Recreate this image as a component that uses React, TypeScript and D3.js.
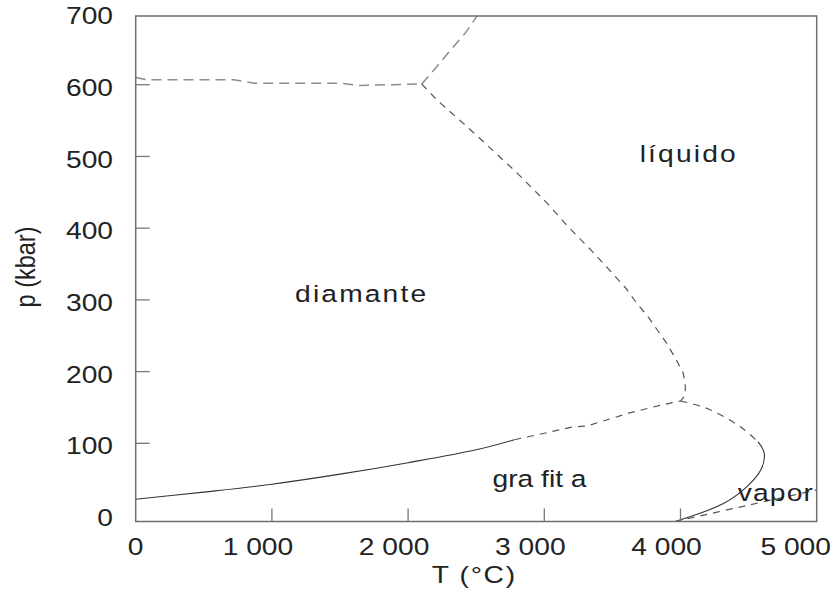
import * as d3 from 'd3'

// axis ticks
const P_TICKS = [0, 100, 200, 300, 400, 500, 600, 700]
const T_TICKS = [0, 1000, 2000, 3000, 4000, 5000]
const T_TICK_LABELS = ['0', '1 000', '2 000', '3 000', '4 000', '5 000']

// phase boundaries (T in °C, p in kbar)
const DG_SOLID_T = [0, 500, 1000, 1500, 2000, 2500, 2780]
const DG_SOLID_P = [22, 32, 43, 57, 73, 91, 105]
const DG_DASH_T = [2780, 3000, 3210, 3310, 3430, 3620, 3850, 4000]
const DG_DASH_P = [105, 114, 123, 124, 131, 142, 153, 159]

const GL_DASH_T = [4000, 4190, 4440, 4570]
const GL_DASH_P = [159, 149, 123, 102]
const GL_SOLID_T = [4570, 4615, 4590, 4490, 4315, 3960]
const GL_SOLID_P = [102, 86, 63, 40, 16, -9]

const GV_T = [3960, 4480, 5000]
const GV_P = [-9, 13, 35]

const DL_T = [2100, 2210, 2430, 2630, 2800, 3020, 3170, 3350, 3510, 3600, 3680, 3760, 3830, 3900, 3970, 4020, 4035, 4035, 4000]
const DL_P = [601, 579, 542, 507, 477, 435, 403, 368, 335, 316, 295, 277, 258, 239, 216, 198, 180, 167, 159]

const LIII_T = [2100, 2210, 2310, 2420, 2510]
const LIII_P = [601, 625, 648, 672, 697]

const DIII_T = [0, 80, 720, 870, 1510, 1630, 2100]
const DIII_P = [610, 607, 607, 602, 602, 599, 601]

// region names and where they sit (T, p of text start / baseline)
const REGION_NAMES = ['líquido', 'diamante', 'gra fit a', 'vapor']
const REGION_T = [3700, 1170, 2620, 4420]
const REGION_P = [492, 297, 39, 20]

const zip = (ts: number[], ps: number[]) => ts.map((t, i) => [t, ps[i]] as [number, number])

export default function App() {
  const width = 839
  const height = 601
  const frameTop = 16
  const sx = 1.2 // source figure is stretched horizontally
  const font = '"Liberation Sans", Arial, sans-serif'

  const x = d3.scaleLinear().domain([0, 5000]).range([135.7, 816.7])
  const y = d3.scaleLinear().domain([-9, 700]).range([521.5, 13])

  const smooth = d3
    .line<[number, number]>()
    .x((d) => x(d[0]))
    .y((d) => y(d[1]))
    .curve(d3.curveCatmullRom.alpha(0.5))
  const straight = d3
    .line<[number, number]>()
    .x((d) => x(d[0]))
    .y((d) => y(d[1]))

  const x0 = x(0)
  const x1 = x(5000)
  const yb = y(-9)

  const upperDash = { stroke: '#8c8c8c', strokeWidth: 1.5, strokeDasharray: '10 6', fill: 'none' }
  const lowerDash = { stroke: '#555', strokeWidth: 1.2, strokeDasharray: '7 6', fill: 'none' }
  const solid = { stroke: '#333', strokeWidth: 1.1, fill: 'none' }

  // thousand labels sit a bit left of their tick in the source figure
  const tLabelShift = (t: number) => (t === 0 ? 0 : t === 5000 ? -21 : -14)

  return (
    <svg
      width={width}
      height={height}
      style={{ position: 'absolute', left: 0, top: 0, background: '#fff' }}
      fontFamily={font}
    >
      {/* phase boundaries */}
      <path d={straight(zip(DIII_T, DIII_P)) ?? ''} {...upperDash} />
      <path d={straight(zip(LIII_T, LIII_P)) ?? ''} {...upperDash} />
      <path d={straight(zip(DL_T, DL_P)) ?? ''} {...lowerDash} />
      <path d={smooth(zip(DG_SOLID_T, DG_SOLID_P)) ?? ''} {...solid} />
      <path d={straight(zip(DG_DASH_T, DG_DASH_P)) ?? ''} {...lowerDash} />
      <path d={smooth(zip(GL_DASH_T, GL_DASH_P)) ?? ''} {...lowerDash} />
      <path d={smooth(zip(GL_SOLID_T, GL_SOLID_P)) ?? ''} {...solid} />
      <path d={smooth(zip(GV_T, GV_P)) ?? ''} {...lowerDash} />

      {/* frame */}
      <rect x={x0} y={frameTop} width={x1 - x0} height={yb - frameTop} fill="none" stroke="#6e6e6e" strokeWidth={1.5} />

      {/* inward ticks */}
      {P_TICKS.filter((p) => p > 0 && p < 700).map((p) => (
        <line key={'py' + p} x1={x0} x2={x0 + 14} y1={y(p)} y2={y(p)} stroke="#777" strokeWidth={1.3} />
      ))}
      {T_TICKS.filter((t) => t > 0 && t < 5000).map((t) => (
        <line key={'tx' + t} x1={x(t)} x2={x(t)} y1={yb} y2={yb - 13} stroke="#777" strokeWidth={1.3} />
      ))}

      {/* tick labels */}
      {P_TICKS.map((p) => (
        <text
          key={'pl' + p}
          transform={`translate(113, ${y(p) + 3}) scale(${sx}, 1)`}
          textAnchor="end"
          dominantBaseline="central"
          fontSize={23.5}
          fill="#222"
        >
          {p}
        </text>
      ))}
      {T_TICKS.map((t, i) => (
        <text
          key={'tl' + t}
          transform={`translate(${x(t) + tLabelShift(t)}, 555) scale(${sx}, 1)`}
          textAnchor="middle"
          fontSize={23.5}
          fill="#222"
        >
          {T_TICK_LABELS[i]}
        </text>
      ))}

      {/* axis titles */}
      <text
        transform={`translate(${(x0 + x1) / 2 - 2}, 583) scale(${sx}, 1)`}
        textAnchor="middle"
        fontSize={23.5}
        letterSpacing={1.4}
        fill="#222"
      >
        T (°C)
      </text>
      <text
        transform={`translate(35, 267) scale(${sx}, 1) rotate(-90)`}
        textAnchor="middle"
        fontSize={23.5}
        fill="#222"
      >
        p (kbar)
      </text>

      {/* region labels */}
      {REGION_NAMES.map((name, i) => (
        <text
          key={name}
          transform={`translate(${x(REGION_T[i])}, ${y(REGION_P[i])}) scale(${sx}, 1)`}
          fontSize={23.5}
          letterSpacing={name.startsWith('gra') ? 0 : name === 'vapor' ? 1 : 1.8}
          fill="#222"
        >
          {name}
        </text>
      ))}
    </svg>
  )
}
